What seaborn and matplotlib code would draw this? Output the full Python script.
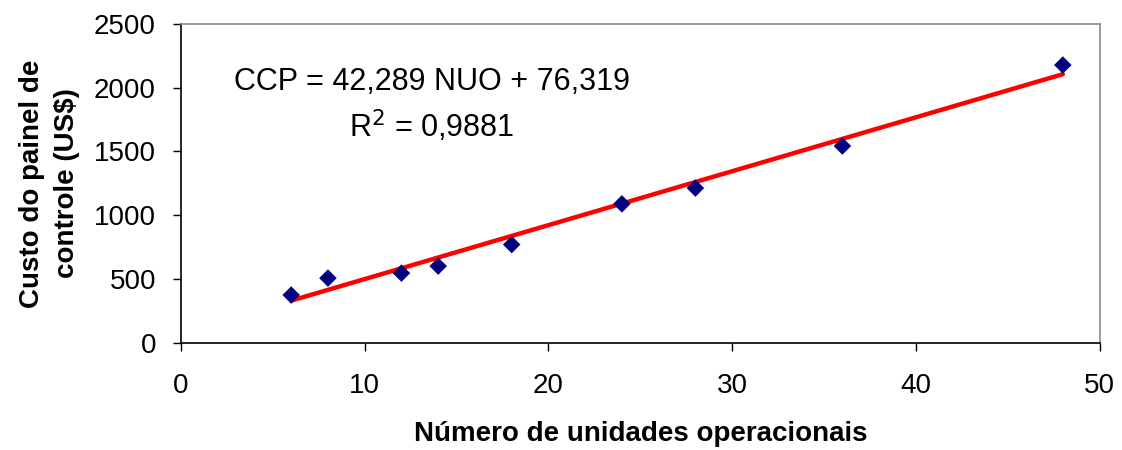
import matplotlib
matplotlib.use("Agg")
import matplotlib.pyplot as plt
import seaborn as sns
import numpy as np
import pandas as pd

# Observed panel costs by number of operational units
units = [6, 8, 12, 14, 18, 24, 28, 36, 48]
cost = [374, 507, 546, 601, 770, 1089, 1213, 1543, 2178]

# Linear trend coefficients (CCP = a * NUO + b)
slope = 42.289
intercept = 76.319
r_squared = 0.9881

x_ticks = [0, 10, 20, 30, 40, 50]
y_ticks = [0, 500, 1000, 1500, 2000, 2500]

sns.set_theme(style="white")
plt.rcParams["font.family"] = ["Liberation Sans", "DejaVu Sans"]
plt.rcParams["text.color"] = "black"
plt.rcParams["axes.labelcolor"] = "black"
plt.rcParams["xtick.color"] = "black"
plt.rcParams["ytick.color"] = "black"

fig = plt.figure(figsize=(11.22, 4.5), dpi=100)
ax = fig.add_axes([0.1613, 0.2384, 0.8187, 0.7083])

df = pd.DataFrame({"units": units, "cost": cost})
trend_x = np.array([min(units), max(units)])
trend = pd.DataFrame({"units": trend_x, "cost": slope * trend_x + intercept})

sns.lineplot(data=trend, x="units", y="cost", color="#ff0000", linewidth=3.2,
             ax=ax, zorder=2)
sns.scatterplot(data=df, x="units", y="cost", marker="D", color="#000080",
                s=80, edgecolor="none", ax=ax, zorder=3)

ax.set_xlim(0, 50)
ax.set_ylim(0, 2500)
ax.set_xticks(x_ticks)
ax.set_yticks(y_ticks)
ax.tick_params(axis="both", which="major", direction="out", length=6, width=1,
               color="black", labelsize=20, labelcolor="black",
               bottom=True, left=True)
ax.tick_params(axis="x", pad=16)
ax.tick_params(axis="y", pad=12)

for side in ("left", "bottom"):
    ax.spines[side].set_color("#000000")
    ax.spines[side].set_linewidth(1.2)
for side in ("top", "right"):
    ax.spines[side].set_color("#8c8c8c")
    ax.spines[side].set_linewidth(1.2)

ax.set_xlabel("Número de unidades operacionais", fontsize=20, fontweight="bold",
              labelpad=16)
ax.set_ylabel("Custo do painel de\ncontrole (US$)", fontsize=20, fontweight="bold",
              labelpad=10, linespacing=1.45)

def br(v, nd):
    return f"{v:.{nd}f}".replace(".", ",")

ax.text(13.65, 1982, f"CCP = {br(slope, 3)} NUO + {br(intercept, 3)}",
        fontsize=22, ha="center", va="baseline")
ax.text(13.65, 1613, f"R$^2$ = {br(r_squared, 4)}",
        fontsize=22, ha="center", va="baseline")

fig.savefig("out.png", dpi=100, facecolor="white")
